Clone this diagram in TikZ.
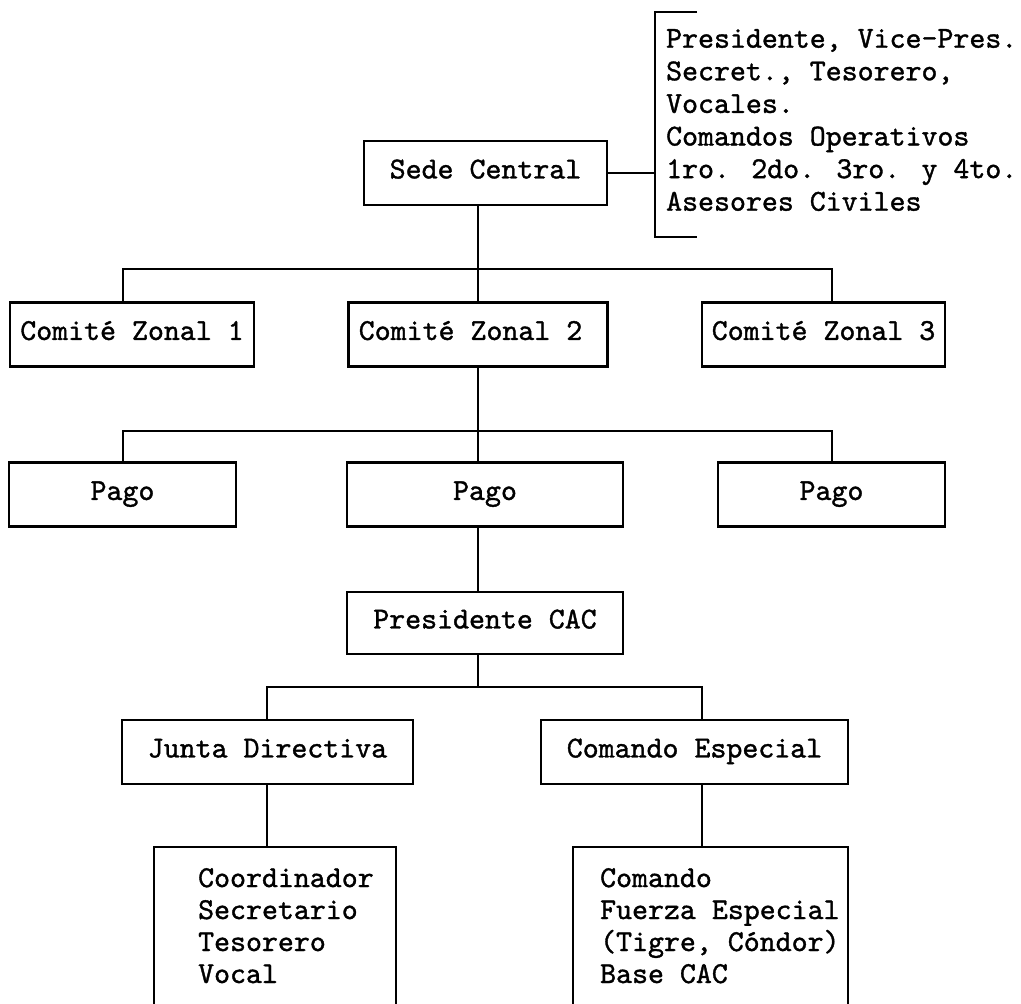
\documentclass[tikz,border=0pt]{standalone}
\usepackage{fontspec}
\newfontfamily\orgtt{lmmono10-regular.otf}[FakeBold=1.2]
\begin{document}
\begin{tikzpicture}[every node/.style={font=\orgtt\fontsize{17.3}{18.2}\selectfont},
    line width=1.3pt,
    orgbox/.style={draw, minimum height=1.28cm, inner sep=0.2cm, text height=0.62em, text depth=0pt},
    listtext/.style={anchor=north west, align=left, inner sep=0pt}]
    \clip (0,0) rectangle (20.42,20.06);

    % Sede Central and its members
    \node[orgbox, minimum width=4.86cm] (sede) at (9.71,16.60) {Sede Central};
    \coordinate (brk) at (13.10,16.60);
    \draw (sede.east) -- (brk);
    \draw (13.94,19.82) -- (13.10,19.82) -- (13.10,15.32) -- (13.94,15.32);
    \node[listtext, font=\orgtt\fontsize{17.3}{18.55}\selectfont] (sedelist) at (13.30,19.50) {Presidente, Vice-Pres.\\Secret., Tesorero,\\Vocales.\\Comandos Operativos\\1ro. 2do. 3ro. y 4to.\\Asesores Civiles};

    % Zonal committees
    \node[orgbox, minimum width=4.84cm] (zon1) at (2.64,13.37) {Comité Zonal 1};
    \node[orgbox, minimum width=5.18cm] (zon2) at (9.56,13.37) {Comité Zonal 2\hspace*{0.3cm}};
    \node[orgbox, minimum width=4.86cm] (zon3) at (16.47,13.37) {Comité Zonal 3};
    \coordinate (b1w) at (2.46,14.68);
    \coordinate (b1e) at (16.64,14.68);
    \draw (sede.south -| zon2.north) -- (zon2.north);
    \draw (zon1.north -| b1w) -- (b1w) -- (b1e) -- (zon3.north -| b1e);

    % Pagos
    \node[orgbox, minimum width=4.54cm] (pago1) at (2.45,10.17) {Pago};
    \node[orgbox, minimum width=5.52cm] (pago2) at (9.70,10.17) {Pago};
    \node[orgbox, minimum width=4.54cm] (pago3) at (16.63,10.17) {Pago};
    \coordinate (b2w) at (2.46,11.44);
    \coordinate (b2e) at (16.64,11.44);
    \draw (zon2.south) -- (zon2.south |- pago2.north);
    \draw (pago1.north -| b2w) -- (b2w) -- (b2e) -- (pago3.north -| b2e);

    % Presidente CAC
    \node[orgbox, minimum width=5.52cm, minimum height=1.24cm] (pres) at (9.70,7.60) {Presidente CAC};
    \draw (zon2.south |- pago2.south) -- (zon2.south |- pres.north);

    % Junta and Comando
    \node[orgbox, minimum width=5.82cm] (junta) at (5.35,5.02) {Junta Directiva};
    \node[orgbox, minimum width=6.14cm] (coman) at (13.89,5.02) {Comando Especial};
    \coordinate (b3w) at (5.34,6.32);
    \coordinate (b3e) at (14.04,6.32);
    \draw (zon2.south |- pres.south) -- (zon2.south |- b3w);
    \draw (junta.north -| b3w) -- (b3w) -- (b3e) -- (coman.north -| b3e);

    % Lists at the foot, open at the bottom
    \coordinate (juntatop) at (5.34,3.12);
    \coordinate (comantop) at (14.04,3.12);
    \draw (junta.south -| juntatop) -- (juntatop);
    \draw (coman.south -| comantop) -- (comantop);
    \draw (3.08,-0.2) |- (7.92,3.12) -- (7.92,-0.2);
    \draw (11.46,-0.2) |- (16.96,3.12) -- (16.96,-0.2);
    \node[listtext] (juntalist) at (3.94,2.72) {Coordinador\\Secretario\\Tesorero\\Vocal};
    \node[listtext] (comanlist) at (11.98,2.72) {Comando\\Fuerza Especial\\(Tigre, Cóndor)\\Base CAC};
\end{tikzpicture}
\end{document}
